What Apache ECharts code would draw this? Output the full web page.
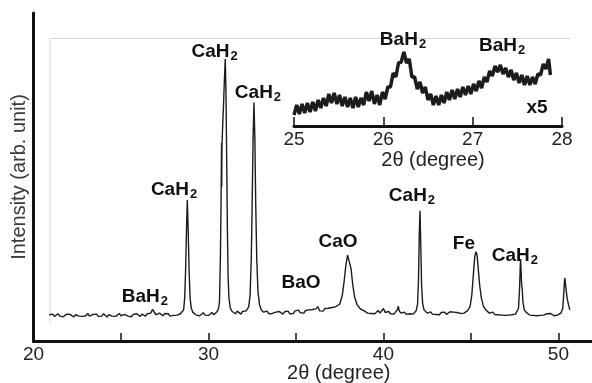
<!DOCTYPE html>
<html>
<head>
<meta charset="utf-8">
<script src="https://cdn.jsdelivr.net/npm/echarts@6/dist/echarts.min.js"></script>
<style>
  html, body { margin: 0; padding: 0; background: #fff; }
  #chart { width: 592px; height: 383px; }
</style>
</head>
<body>
<div id="chart"></div>
<script>
// main pattern, 2theta (deg) / intensity (arb.)
const mainTrace = [
  [20.9, 80], [21.0, 76], [21.1, 82], [21.2, 75], [21.3, 80], [21.4, 83], [21.5, 76], [21.6, 81], [21.7, 74], [21.8, 80],
  [21.9, 82], [22.0, 76], [22.1, 81], [22.2, 77], [22.3, 73], [22.4, 80], [22.5, 83], [22.6, 76], [22.7, 80], [22.8, 75],
  [22.9, 81], [23.0, 77], [23.1, 84], [23.2, 76], [23.3, 74], [23.4, 81], [23.5, 77], [23.6, 82], [23.7, 75], [23.8, 80],
  [23.9, 76], [24.0, 83], [24.1, 77], [24.2, 73], [24.3, 80], [24.4, 82], [24.5, 76], [24.6, 81], [24.7, 75], [24.8, 80],
  [24.9, 84], [25.0, 77], [25.1, 75], [25.2, 81], [25.3, 83], [25.4, 76], [25.5, 80], [25.6, 74], [25.7, 81], [25.8, 77],
  [25.9, 83], [26.0, 78], [26.1, 75], [26.2, 82], [26.3, 78], [26.4, 76], [26.5, 83], [26.6, 79], [26.7, 85], [26.8, 96],
  [26.85, 100], [26.9, 90], [27.0, 80], [27.1, 75], [27.2, 85], [27.3, 79], [27.4, 77], [27.5, 84], [27.6, 78], [27.7, 83],
  [27.8, 76], [27.9, 82], [28.0, 78], [28.1, 84], [28.2, 79], [28.3, 77], [28.4, 83], [28.5, 86],
  [28.58, 95], [28.64, 130], [28.69, 210], [28.74, 330], [28.79, 430], [28.84, 340], [28.89, 220], [28.95, 130], [29.02, 100], [29.1, 88],
  [29.2, 84], [29.3, 79], [29.4, 84], [29.5, 77], [29.6, 83], [29.7, 86], [29.8, 79], [29.9, 85], [30.0, 78], [30.1, 83],
  [30.2, 87], [30.3, 80], [30.4, 86], [30.5, 90],
  [30.58, 100], [30.63, 120], [30.68, 250], [30.72, 420], [30.74, 560], [30.75, 604], [30.76, 470], [30.77, 590], [30.8, 640], [30.86, 720],
  [30.92, 810], [30.96, 860], [31.0, 760], [31.04, 560], [31.08, 350], [31.12, 200], [31.17, 130], [31.25, 100], [31.35, 90],
  [31.45, 88], [31.55, 83], [31.65, 91], [31.75, 85], [31.85, 82], [31.95, 90], [32.05, 86], [32.15, 92],
  [32.22, 95], [32.3, 104], [32.38, 140], [32.45, 260], [32.5, 430], [32.55, 620], [32.6, 727], [32.65, 620], [32.7, 420], [32.76, 250],
  [32.83, 150], [32.92, 110], [33.02, 95], [33.15, 88],
  [33.25, 85], [33.35, 91], [33.45, 83], [33.55, 89], [33.65, 84], [33.75, 81], [33.85, 88], [33.95, 83], [34.05, 90], [34.15, 84],
  [34.25, 82], [34.35, 89], [34.45, 85], [34.55, 91], [34.65, 83], [34.75, 88], [34.85, 84], [34.95, 92], [35.05, 87], [35.15, 94],
  [35.25, 86], [35.35, 91], [35.45, 85], [35.55, 93], [35.65, 88], [35.75, 95], [35.85, 89], [35.95, 96], [36.05, 90], [36.15, 98],
  [36.25, 105], [36.35, 92], [36.45, 97], [36.55, 91], [36.65, 99], [36.75, 94], [36.85, 100], [36.95, 95], [37.05, 102], [37.15, 97],
  [37.25, 104],
  [37.35, 100], [37.5, 112], [37.65, 140], [37.75, 180], [37.85, 230], [37.95, 262], [38.0, 268], [38.05, 258], [38.15, 220], [38.25, 170],
  [38.35, 135], [38.5, 110], [38.7, 97], [38.9, 92],
  [39.0, 90], [39.1, 85], [39.2, 90], [39.3, 84], [39.4, 89], [39.5, 83], [39.6, 88], [39.7, 93], [39.8, 85], [39.9, 91],
  [40.0, 99], [40.1, 87], [40.2, 84], [40.3, 90], [40.4, 83], [40.5, 88], [40.6, 82], [40.7, 89], [40.8, 96], [40.85, 106],
  [40.9, 92], [41.0, 85], [41.1, 82], [41.2, 88], [41.3, 81], [41.4, 87], [41.5, 83], [41.6, 89], [41.7, 82], [41.8, 88],
  [41.87, 92], [41.95, 112], [42.0, 180], [42.05, 330], [42.09, 397], [42.13, 300], [42.18, 170], [42.24, 115], [42.32, 95],
  [42.4, 90], [42.5, 85], [42.6, 83], [42.7, 89], [42.8, 82], [42.9, 87], [43.0, 81], [43.1, 86], [43.2, 80], [43.3, 87],
  [43.4, 82], [43.5, 88], [43.6, 81], [43.7, 86], [43.8, 89], [43.9, 83], [44.0, 88], [44.1, 82], [44.2, 87], [44.3, 90],
  [44.4, 84], [44.5, 89], [44.6, 85], [44.7, 91],
  [44.8, 92], [44.95, 105], [45.05, 140], [45.15, 210], [45.22, 258], [45.29, 272], [45.35, 262], [45.42, 220], [45.5, 170], [45.6, 130],
  [45.72, 105], [45.85, 95],
  [45.95, 90], [46.05, 85], [46.15, 82], [46.25, 88], [46.35, 81], [46.45, 86], [46.55, 80], [46.65, 85], [46.75, 79], [46.85, 84],
  [46.95, 78], [47.05, 83], [47.15, 79], [47.25, 85], [47.35, 80], [47.45, 86], [47.55, 82],
  [47.65, 88], [47.72, 100], [47.78, 160], [47.82, 230], [47.84, 250], [47.87, 210], [47.9, 170], [47.93, 160], [47.97, 120], [48.05, 95],
  [48.15, 88],
  [48.25, 83], [48.35, 79], [48.45, 84], [48.55, 78], [48.65, 83], [48.75, 77], [48.85, 82], [48.95, 78], [49.05, 84], [49.15, 79],
  [49.25, 77], [49.35, 83], [49.45, 78], [49.55, 84], [49.65, 79], [49.75, 77], [49.85, 83], [49.95, 79], [50.05, 85], [50.15, 86],
  [50.25, 100], [50.3, 140], [50.35, 185], [50.37, 192], [50.42, 165], [50.5, 130], [50.58, 110], [50.65, 95]
]

// x5 magnified region 25-28 deg
const insetTrace = [
  [25.00, 11], [25.03, 21], [25.06, 12], [25.09, 22], [25.12, 13], [25.15, 23], [25.18, 14], [25.21, 24], [25.24, 15], [25.27, 26],
  [25.30, 18], [25.33, 28], [25.36, 20], [25.39, 32], [25.42, 23], [25.45, 33], [25.48, 22], [25.51, 31], [25.54, 20], [25.57, 29],
  [25.60, 19], [25.63, 28], [25.66, 18], [25.69, 29], [25.72, 19], [25.75, 28], [25.78, 21], [25.81, 34], [25.84, 25], [25.87, 35],
  [25.90, 22], [25.93, 31], [25.96, 21], [25.99, 34], [26.02, 27], [26.05, 39], [26.08, 39], [26.11, 53], [26.14, 49], [26.17, 63],
  [26.20, 64], [26.23, 74], [26.26, 63], [26.29, 67], [26.32, 49], [26.35, 49], [26.38, 37], [26.41, 44], [26.44, 33], [26.47, 39],
  [26.50, 26], [26.53, 32], [26.56, 21], [26.59, 30], [26.62, 21], [26.65, 31], [26.68, 23], [26.71, 34], [26.74, 26], [26.77, 36],
  [26.80, 27], [26.83, 37], [26.86, 29], [26.89, 39], [26.92, 31], [26.95, 40], [26.98, 32], [27.01, 42], [27.04, 35], [27.07, 45],
  [27.10, 38], [27.13, 49], [27.16, 44], [27.19, 55], [27.22, 50], [27.25, 60], [27.28, 54], [27.31, 61], [27.34, 52], [27.37, 58],
  [27.40, 49], [27.43, 56], [27.46, 46], [27.49, 53], [27.52, 43], [27.55, 51], [27.58, 41], [27.61, 50], [27.64, 41], [27.67, 49],
  [27.70, 42], [27.73, 52], [27.76, 51], [27.79, 62], [27.82, 57], [27.85, 67], [27.87, 51]
]

// peak labels (x, y = label centre in data units)
const peakNames = ['BaH_2', 'CaH_2', 'CaH_2', 'CaH_2', 'BaO', 'CaO', 'CaH_2', 'Fe', 'CaH_2']
const peakLabelX = [26.37, 28.03, 30.35, 32.83, 35.29, 37.4, 41.63, 44.6, 47.51]
const peakLabelY = [134, 460, 881, 756, 177, 302, 442, 296, 259]

const insetNames = ['BaH_2', 'BaH_2', 'x5']
const insetLabelX = [26.22, 27.33, 27.72]
const insetLabelY = [86, 80, 18]

const mainTicks = [25, 30, 35, 40, 45, 50]
const mainTickLabels = [20, 30, 40, 50]

const FONT = '"Liberation Sans", Arial, sans-serif'
const INK = '#111'

const richLabel = {
  b: { fontSize: 19, fontWeight: 'bold', color: INK, fontFamily: FONT },
  s: { fontSize: 13, fontWeight: 'bold', color: INK, fontFamily: FONT, verticalAlign: 'bottom', padding: [8, 0, 0, 1] }
}
const fmt = (name) => {
  const parts = name.split('_')
  return parts.length > 1 ? `{b|${parts[0]}}{s|${parts[1]}}` : `{b|${name}}`
}
const labelSeries = (names, xs, ys, axisIdx) => ({
  type: 'scatter',
  xAxisIndex: axisIdx,
  yAxisIndex: axisIdx,
  symbolSize: 1,
  itemStyle: { color: 'rgba(255,255,255,0)', opacity: 1 },
  silent: true,
  z: 5,
  label: {
    show: true,
    position: 'inside',
    color: INK,
    opacity: 1,
    textBorderWidth: 0,
    formatter: (p) => fmt(p.name),
    rich: richLabel
  },
  data: names.map((n, i) => ({ name: n, value: [xs[i], ys[i]] }))
})

const chart = echarts.init(document.getElementById('chart'))

const option = {
  animation: false,
  textStyle: { fontFamily: FONT },
  grid: [
    { left: 33.5, right: 0, top: 13, bottom: 42, outerBoundsMode: 'none', containLabel: false },
    { left: 294, width: 268, top: 26, height: 100, outerBoundsMode: 'none', containLabel: false }
  ],
  graphic: [
    {
      type: 'polyline',
      silent: true,
      shape: { points: [[50, 323], [50, 38.5], [570, 38.5]] },
      style: { stroke: '#d6d6d6', lineWidth: 1, fill: null }
    }
  ],
  xAxis: [
    {
      type: 'value',
      gridIndex: 0,
      min: 20,
      max: 51.92,
      name: '2θ (degree)',
      nameLocation: 'middle',
      nameGap: 22,
      nameMoveOverlap: false,
      nameTextStyle: { fontSize: 20, color: '#222', padding: [0, 0, 0, 52] },
      axisLine: { lineStyle: { color: '#111', width: 3 } },
      axisTick: { inside: true, length: 8, lineStyle: { color: '#111', width: 1.5 }, customValues: mainTicks },
      axisLabel: { fontSize: 19, color: '#222', margin: 4, customValues: mainTickLabels },
      splitLine: { show: false }
    },
    {
      type: 'value',
      gridIndex: 1,
      min: 25,
      max: 28,
      interval: 1,
      name: '2θ (degree)',
      nameLocation: 'middle',
      nameGap: 24,
      nameMoveOverlap: false,
      nameTextStyle: { fontSize: 20, color: '#222', padding: [0, 0, 0, 10] },
      axisLine: { lineStyle: { color: '#111', width: 3 } },
      axisTick: { inside: true, length: 9, lineStyle: { color: '#111', width: 1.5 } },
      axisLabel: { fontSize: 19, color: '#222', margin: 4, showMinLabel: true, showMaxLabel: true },
      splitLine: { show: false }
    }
  ],
  yAxis: [
    {
      type: 'value',
      gridIndex: 0,
      min: 0,
      max: 1000,
      name: 'Intensity (arb. unit)',
      nameLocation: 'middle',
      nameGap: 4,
      nameTextStyle: { fontSize: 20, color: '#3a3a3a' },
      axisLine: { show: true, lineStyle: { color: '#111', width: 3 } },
      axisTick: { show: false },
      axisLabel: { show: false },
      splitLine: { show: false }
    },
    {
      type: 'value',
      gridIndex: 1,
      min: 0,
      max: 100,
      show: false
    }
  ],
  series: [
    {
      type: 'line',
      xAxisIndex: 0,
      yAxisIndex: 0,
      data: mainTrace,
      showSymbol: false,
      symbol: 'none',
      sampling: 'none',
      silent: true,
      lineStyle: { color: '#1c1c1c', width: 1.4 }
    },
    {
      type: 'line',
      xAxisIndex: 1,
      yAxisIndex: 1,
      data: insetTrace,
      showSymbol: false,
      symbol: 'none',
      silent: true,
      lineStyle: { color: '#1c1c1c', width: 3.5 }
    },
    labelSeries(peakNames, peakLabelX, peakLabelY, 0),
    labelSeries(insetNames, insetLabelX, insetLabelY, 1)
  ]
}

chart.setOption(option)
</script>
</body>
</html>
